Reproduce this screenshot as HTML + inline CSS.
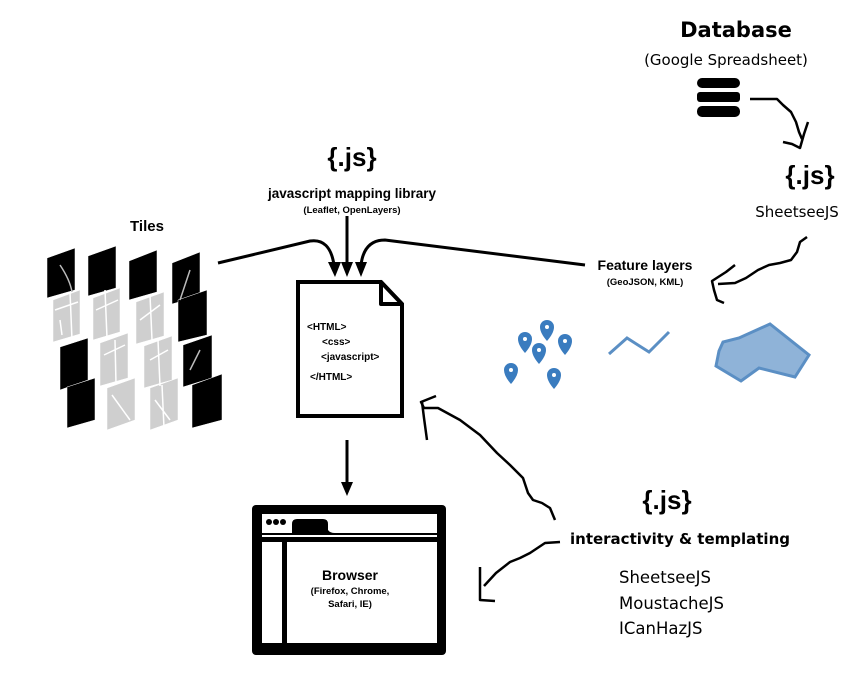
<!DOCTYPE html>
<html><head><meta charset="utf-8"><style>
html,body{margin:0;padding:0;background:#fff}
svg{display:block}
.b{font-family:"Liberation Sans",sans-serif;font-weight:bold}
.c{font-family:"DejaVu Sans",sans-serif}
</style></head><body>
<svg width="861" height="673" viewBox="0 0 861 673" xmlns="http://www.w3.org/2000/svg">
<!-- titles -->
<text x="736" y="37" text-anchor="middle" class="c" font-weight="bold" font-size="21">Database</text>
<text x="726" y="65" text-anchor="middle" class="c" font-size="15">(Google Spreadsheet)</text>
<g fill="#000">
<rect x="697" y="78" width="43" height="10" rx="5"/>
<rect x="697" y="92" width="43" height="10" rx="3"/>
<rect x="697" y="106" width="43" height="11" rx="5"/>
</g>
<text x="810" y="184" text-anchor="middle" class="b" font-size="26">{.js}</text>
<text x="797" y="217" text-anchor="middle" class="c" font-size="15">SheetseeJS</text>
<text x="645" y="270" text-anchor="middle" class="b" font-size="14">Feature layers</text>
<text x="645" y="285" text-anchor="middle" class="b" font-size="9.5">(GeoJSON, KML)</text>

<text x="352" y="166" text-anchor="middle" class="b" font-size="26">{.js}</text>
<text x="352" y="198" text-anchor="middle" class="b" font-size="13.5">javascript mapping library</text>
<text x="352" y="213" text-anchor="middle" class="b" font-size="9.5">(Leaflet, OpenLayers)</text>
<text x="147" y="231" text-anchor="middle" class="b" font-size="15">Tiles</text>

<text x="667" y="509" text-anchor="middle" class="b" font-size="26">{.js}</text>
<text x="680" y="544" text-anchor="middle" class="c" font-weight="bold" font-size="15">interactivity &amp; templating</text>
<text x="619" y="583" class="c" font-size="16.5">SheetseeJS</text>
<text x="619" y="609" class="c" font-size="16.5">MoustacheJS</text>
<text x="619" y="634" class="c" font-size="16.5">ICanHazJS</text>

<!-- tiles -->
<g stroke="#fff" stroke-width="0.5">
<g fill="#000">
<polygon points="47,258 75,248 75,290 47,298"/>
<polygon points="88,256 116,246 116,288 88,296"/>
<polygon points="129,261 157,250 157,292 129,300"/>
<polygon points="172,263 200,252 200,296 172,304"/>
<polygon points="178,300 207,290 207,335 178,342"/>
<polygon points="183,345 212,335 212,378 183,387"/>
<polygon points="192,385 222,374 222,420 192,428"/>
<polygon points="60,347 88,338 88,380 60,390"/>
<polygon points="67,387 95,378 95,420 67,428"/>
</g>
<g fill="#cfcfcf">
<polygon points="53,300 80,290 80,334 53,342"/>
<polygon points="93,298 120,288 120,332 93,340"/>
<polygon points="136,302 164,292 164,336 136,344"/>
<polygon points="100,343 128,333 128,378 100,386"/>
<polygon points="144,346 172,336 172,380 144,388"/>
<polygon points="107,388 135,378 135,420 107,430"/>
<polygon points="150,388 178,378 178,420 150,430"/>
</g>
</g>
<g stroke="#fff" stroke-width="1.5" fill="none">
<path d="M55,310 L78,302 M60,320 L62,335 M70,292 L72,340 M96,310 L118,300 M105,290 L107,338 M140,320 L160,305 M150,295 L152,340 M104,355 L125,345 M115,340 L116,384 M112,395 L130,420 M150,360 L168,350 M158,340 L160,386 M155,400 L170,420 M162,385 L164,428"/>
<path d="M60,265 Q70,280 72,292 M190,270 L180,300 M200,350 L190,370" stroke="#bbb"/>
</g>

<!-- arrows into doc -->
<g stroke="#000" stroke-width="3" fill="none">
<path d="M218,263 L310,241 Q330,238 334,265"/>
<path d="M347,216 L347,265"/>
<path d="M585,265 L385,240 Q364,240 361,265"/>
<path d="M347,440 L347,485"/>
</g>
<g fill="#000">
<polygon points="328,262 341,262 335,277"/>
<polygon points="341,262 353,262 347,277"/>
<polygon points="355,262 367,262 361,277"/>
<polygon points="341,482 353,482 347,496"/>
</g>

<!-- document -->
<path d="M298,282 L381,282 L402,304 L402,416 L298,416 Z" fill="#fff" stroke="#000" stroke-width="4"/>
<path d="M381,282 L381,304 L402,304 Z" fill="#fff" stroke="#000" stroke-width="4" stroke-linejoin="round"/>
<g class="b" font-size="10">
<text x="307" y="330">&lt;HTML&gt;</text>
<text x="322" y="345">&lt;css&gt;</text>
<text x="321" y="360">&lt;javascript&gt;</text>
<text x="310" y="380">&lt;/HTML&gt;</text>
</g>

<!-- browser -->
<rect x="252" y="505" width="194" height="150" rx="4" fill="#000"/>
<rect x="262" y="514" width="175" height="19" fill="#fff"/>
<path d="M292,533 L292,524 Q292,519 297,519 L323,519 Q328,519 328,524 L328,530 Q330,533 335,533 Z" fill="#000"/>
<circle cx="269" cy="522" r="3" fill="#000"/><circle cx="276" cy="522" r="3" fill="#000"/><circle cx="283" cy="522" r="3" fill="#000"/>
<rect x="262" y="535" width="175" height="2" fill="#fff"/>
<rect x="262" y="542" width="20" height="101" fill="#fff"/>
<rect x="287" y="542" width="150" height="101" fill="#fff"/>
<text x="350" y="580" text-anchor="middle" class="b" font-size="14">Browser</text>
<text x="350" y="594" text-anchor="middle" class="b" font-size="9.5">(Firefox, Chrome,</text>
<text x="350" y="607" text-anchor="middle" class="b" font-size="9.5">Safari, IE)</text>

<!-- feature icons -->
<g fill="#3a7cbf">
<path d="M525,332 a7,7 0 0 1 7,7 q0,6 -7,14 q-7,-8 -7,-14 a7,7 0 0 1 7,-7z"/>
<path d="M547,320 a7,7 0 0 1 7,7 q0,6 -7,14 q-7,-8 -7,-14 a7,7 0 0 1 7,-7z"/>
<path d="M565,334 a7,7 0 0 1 7,7 q0,6 -7,14 q-7,-8 -7,-14 a7,7 0 0 1 7,-7z"/>
<path d="M539,343 a7,7 0 0 1 7,7 q0,6 -7,14 q-7,-8 -7,-14 a7,7 0 0 1 7,-7z"/>
<path d="M511,363 a7,7 0 0 1 7,7 q0,6 -7,14 q-7,-8 -7,-14 a7,7 0 0 1 7,-7z"/>
<path d="M554,368 a7,7 0 0 1 7,7 q0,6 -7,14 q-7,-8 -7,-14 a7,7 0 0 1 7,-7z"/>
</g>
<g fill="#fff"><circle cx="525" cy="339" r="2"/><circle cx="547" cy="327" r="2"/><circle cx="565" cy="341" r="2"/><circle cx="539" cy="350" r="2"/><circle cx="511" cy="370" r="2"/><circle cx="554" cy="375" r="2"/></g>
<polyline points="609,354 627,338 649,352 669,332" fill="none" stroke="#5b8fc4" stroke-width="3"/>
<polygon points="719,351 723,342 739,338 770,324 809,355 795,377 759,368 741,381 716,366" fill="#8fb3d8" stroke="#5b8fc4" stroke-width="3"/>

<!-- squiggles -->
<g stroke="#000" stroke-width="2.5" fill="none" stroke-linejoin="round">
<polyline points="750,99 777,99 783,105 791,112 796,122 799,132 802,139"/>
<polyline points="783,142 792,144 800,148 804,134 808,122"/>
<polyline points="807,237 800,242 797,252 791,260 780,263 769,265 758,270 746,278 735,283 718,284"/>
<polyline points="735,265 726,272 712,281 714,290 717,300 724,303"/>
<polyline points="555,520 550,508 542,503 533,500 528,493 523,478 510,465 497,453 480,435 460,420 438,408 424,408 421,402 436,396"/>
<polyline points="422,402 424,418 427,440"/>
<polyline points="560,542 545,543 530,553 520,558 510,562 496,573 484,586"/>
<polyline points="480,567 480,600 495,601"/>
</g>
</svg>
</body></html>
